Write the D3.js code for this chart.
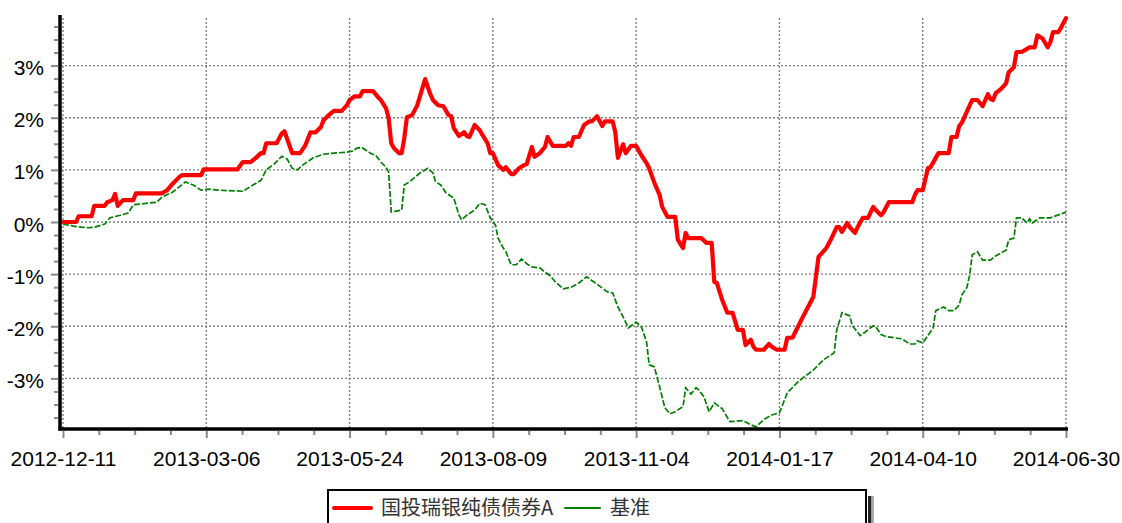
<!DOCTYPE html>
<html><head><meta charset="utf-8">
<script src="https://cdn.jsdelivr.net/npm/d3@7/dist/d3.min.js"></script>
<style>
html,body{margin:0;padding:0;background:#fff;}
svg{display:block;font-family:"Liberation Sans",Arial,sans-serif;}
</style></head>
<body><svg id="c" width="1122" height="523"></svg>
<script>
// x is trading-day index from 2012-12-11 (0) to 2014-06-30 (385)
const tickDays = [0, 55, 110, 165, 220, 275, 330, 385];
const tickLabels = ["2012-12-11","2013-03-06","2013-05-24","2013-08-09","2013-11-04","2014-01-17","2014-04-10","2014-06-30"];
const yTicks = [-3, -2, -1, 0, 1, 2, 3];
const seriesNames = ["国投瑞银纯债债券A", "基准"];

// [trading day, cumulative return %]
const fundReturn = [
[0,0],[5,0],[6,0.11],[11,0.11],[12,0.31],[16,0.31],[17,0.38],[19,0.42],[20,0.54],[21,0.31],[23,0.42],[27,0.42],[28,0.55],[38,0.55],[40,0.61],[42,0.73],[45,0.88],[46,0.90],[53,0.90],[54,1.01],[67,1.01],[69,1.15],[72,1.15],[74,1.23],[76,1.32],[77,1.32],[78,1.51],[82,1.51],[84,1.70],[85,1.74],[88,1.32],[91,1.32],[93,1.47],[95,1.72],[97,1.72],[99,1.82],[100,1.95],[102,2.05],[104,2.13],[107,2.13],[109,2.24],[110,2.34],[112,2.41],[114,2.41],[115,2.51],[119,2.51],[121,2.39],[122,2.34],[124,2.18],[125,1.99],[126,1.51],[127,1.42],[129,1.32],[130,1.32],[131,1.61],[132,2.01],[134,2.05],[136,2.24],[139,2.74],[141,2.45],[142,2.34],[144,2.24],[146,2.22],[148,2.05],[149,2.03],[150,1.80],[152,1.65],[154,1.72],[155,1.65],[156,1.63],[158,1.86],[160,1.76],[161,1.67],[163,1.51],[164,1.32],[165,1.32],[167,1.09],[169,1.00],[170,1.05],[172,0.92],[173,0.92],[175,1.03],[177,1.09],[178,1.11],[180,1.44],[181,1.25],[183,1.32],[185,1.44],[186,1.63],[188,1.46],[193,1.46],[194,1.51],[195,1.46],[196,1.63],[198,1.63],[200,1.86],[202,1.93],[203,1.93],[205,2.03],[207,1.84],[208,1.93],[211,1.93],[212,1.72],[213,1.23],[215,1.49],[216,1.32],[218,1.46],[220,1.46],[222,1.28],[224,1.13],[225,1.03],[227,0.75],[229,0.52],[230,0.29],[232,0.10],[235,0.10],[236,-0.34],[238,-0.50],[239,-0.21],[240,-0.31],[245,-0.31],[247,-0.40],[249,-0.40],[250,-1.15],[251,-1.17],[253,-1.49],[255,-1.74],[257,-1.74],[259,-2.07],[261,-2.07],[262,-2.36],[264,-2.26],[265,-2.39],[266,-2.45],[269,-2.45],[271,-2.34],[272,-2.39],[274,-2.45],[277,-2.45],[278,-2.22],[280,-2.22],[284,-1.82],[288,-1.44],[290,-0.67],[293,-0.50],[295,-0.31],[297,-0.10],[298,-0.10],[299,-0.19],[301,-0.02],[302,-0.10],[304,-0.21],[305,-0.10],[307,0.08],[309,0.08],[311,0.29],[312,0.23],[314,0.13],[315,0.19],[317,0.38],[326,0.38],[327,0.52],[328,0.61],[330,0.61],[332,1.03],[333,1.05],[335,1.23],[336,1.32],[340,1.32],[341,1.63],[343,1.63],[344,1.84],[345,1.90],[349,2.34],[351,2.34],[353,2.22],[355,2.45],[356,2.36],[357,2.34],[358,2.47],[360,2.55],[362,2.66],[363,2.87],[365,2.97],[366,3.26],[368,3.26],[371,3.35],[373,3.35],[374,3.58],[376,3.52],[378,3.35],[379,3.45],[380,3.64],[382,3.64],[383,3.72],[385,3.91]
];
const benchReturn = [
[0,-0.04],[4,-0.08],[7,-0.10],[10,-0.11],[12,-0.10],[16,-0.04],[18,0.08],[22,0.13],[25,0.17],[27,0.33],[36,0.38],[38,0.48],[42,0.57],[47,0.77],[50,0.71],[53,0.61],[56,0.63],[60,0.61],[69,0.59],[71,0.65],[76,0.80],[78,1.00],[81,1.11],[84,1.26],[86,1.21],[88,1.03],[90,1.00],[92,1.09],[96,1.23],[100,1.30],[104,1.32],[109,1.34],[111,1.36],[113,1.42],[115,1.42],[118,1.32],[120,1.28],[122,1.15],[124,1.05],[125,0.96],[126,0.19],[128,0.21],[130,0.23],[131,0.71],[133,0.77],[137,0.94],[140,1.03],[142,0.94],[143,0.77],[145,0.71],[147,0.56],[150,0.46],[152,0.13],[153,0.04],[155,0.13],[158,0.23],[160,0.36],[162,0.33],[164,0.08],[166,-0.06],[167,-0.31],[169,-0.50],[170,-0.57],[172,-0.82],[174,-0.82],[176,-0.71],[178,-0.80],[180,-0.86],[183,-0.88],[185,-0.96],[187,-1.03],[189,-1.15],[192,-1.28],[195,-1.25],[198,-1.17],[201,-1.05],[206,-1.23],[209,-1.34],[211,-1.36],[213,-1.63],[215,-1.82],[217,-2.03],[220,-1.92],[222,-2.01],[224,-2.30],[225,-2.74],[227,-2.78],[229,-3.16],[231,-3.56],[233,-3.68],[235,-3.64],[238,-3.54],[239,-3.18],[241,-3.30],[243,-3.18],[244,-3.22],[246,-3.35],[248,-3.64],[250,-3.47],[253,-3.58],[256,-3.83],[261,-3.81],[264,-3.89],[266,-3.93],[269,-3.79],[272,-3.70],[275,-3.66],[278,-3.28],[282,-3.07],[284,-2.99],[288,-2.84],[292,-2.64],[296,-2.51],[297,-2.07],[299,-1.74],[302,-1.80],[303,-1.99],[306,-2.18],[309,-2.07],[311,-1.99],[312,-2.01],[314,-2.16],[316,-2.20],[322,-2.24],[325,-2.34],[327,-2.34],[328,-2.28],[330,-2.32],[334,-2.03],[335,-1.70],[338,-1.63],[340,-1.70],[342,-1.70],[344,-1.59],[345,-1.40],[347,-1.25],[348,-1.02],[349,-0.63],[351,-0.57],[353,-0.73],[356,-0.73],[358,-0.65],[362,-0.54],[363,-0.34],[365,-0.31],[366,0.08],[368,0.08],[370,-0.02],[371,0.06],[372,-0.02],[375,0.08],[379,0.08],[384,0.17],[385,0.19]
];

const svg = d3.select("#c");
const x = d3.scaleLinear().domain([0, 385]).range([63, 1066]);
const y = d3.scaleLinear().domain([-3.97, 3.97]).range([429, 15]);
const gridColor = "#808080";

// horizontal grid
svg.append("g").selectAll("line").data(yTicks).join("line")
  .attr("x1", 61).attr("x2", x(385) + 2)
  .attr("y1", d => y(d)).attr("y2", d => y(d))
  .attr("stroke", gridColor).attr("stroke-width", 1.4).attr("stroke-dasharray", "2,2");
// vertical grid
svg.append("g").selectAll("line").data(tickDays).join("line")
  .attr("x1", d => x(d)).attr("x2", d => x(d))
  .attr("y1", y.range()[1] + 3).attr("y2", y.range()[0])
  .attr("stroke", gridColor).attr("stroke-width", 1.4).attr("stroke-dasharray", "2,2");

// series
const line = d3.line().x(d => x(d[0])).y(d => y(d[1]));
svg.append("path").datum(benchReturn).attr("d", line)
  .attr("fill", "none").attr("stroke", "#008000").attr("stroke-width", 1.7)
  .attr("stroke-dasharray", "6,2");
svg.append("path").datum(fundReturn).attr("d", line)
  .attr("fill", "none").attr("stroke", "#ff0000").attr("stroke-width", 4.2)
  .attr("stroke-linejoin", "round").attr("stroke-linecap", "round");

// minor ticks
const minorX = d3.range(0, 385, 55 / 4).filter(d => tickDays.indexOf(d) < 0);
const minorY = d3.range(-3.75, 3.76, 0.25).filter(d => Math.abs(d - Math.round(d)) > 1e-6);
const gxMinor = svg.append("g").attr("transform", "translate(0,431)")
  .call(d3.axisBottom(x).tickValues(minorX).tickSize(4).tickFormat(""));
const gyMinor = svg.append("g").attr("transform", "translate(58,0)")
  .call(d3.axisLeft(y).tickValues(minorY).tickSize(4).tickFormat(""));

// major axes
const gx = svg.append("g").attr("transform", "translate(0,431)")
  .call(d3.axisBottom(x).tickValues(tickDays).tickSize(7)
    .tickFormat((d, i) => tickLabels[i]).tickPadding(13));
const gy = svg.append("g").attr("transform", "translate(58,0)")
  .call(d3.axisLeft(y).tickValues(yTicks).tickSize(7)
    .tickFormat(d => d + "%").tickPadding(7));

[gx, gy, gxMinor, gyMinor].forEach(g => {
  g.select(".domain").remove();
  g.selectAll(".tick line").attr("stroke", "#888").attr("stroke-width", 2);
  g.selectAll("text").attr("font-size", 21).attr("fill", "#000")
    .attr("font-family", "'Liberation Sans', Arial, sans-serif");
});
gy.selectAll("text").attr("dy", "0.43em");
gx.selectAll("text").attr("dy", "0.71em");

// axis lines
svg.append("line").attr("x1", 60).attr("x2", 60).attr("y1", y.range()[1]).attr("y2", 430.5)
  .attr("stroke", "#000").attr("stroke-width", 3.5);
svg.append("line").attr("x1", 58.5).attr("x2", x(385) + 2).attr("y1", 429).attr("y2", 429)
  .attr("stroke", "#000").attr("stroke-width", 3.5);

// legend
const lg = svg.append("g");
lg.append("rect").attr("x", 868).attr("y", 496).attr("width", 3.5).attr("height", 40).attr("fill", "#222");
lg.append("rect").attr("x", 871.5).attr("y", 496).attr("width", 2.5).attr("height", 40).attr("fill", "#aaa");
lg.append("rect").attr("x", 328).attr("y", 490).attr("width", 538).attr("height", 50)
  .attr("fill", "#fff").attr("stroke", "#000").attr("stroke-width", 2);
const legendItems = [
  {name: seriesNames[0], color: "#ff0000", w: 4, x0: 334, x1: 371, tx: 381},
  {name: seriesNames[1], color: "#008000", w: 2, x0: 565, x1: 600, tx: 610}
];
legendItems.forEach(it => {
  lg.append("line").attr("x1", it.x0).attr("x2", it.x1).attr("y1", 508).attr("y2", 508)
    .attr("stroke", it.color).attr("stroke-width", it.w).attr("stroke-linecap", "round");
  lg.append("text").attr("x", it.tx).attr("y", 515).text(it.name)
    .attr("font-size", 20).attr("fill", "#333")
    .attr("font-family", "'Noto Sans CJK SC', 'Liberation Sans', sans-serif");
});
</script></body></html>
